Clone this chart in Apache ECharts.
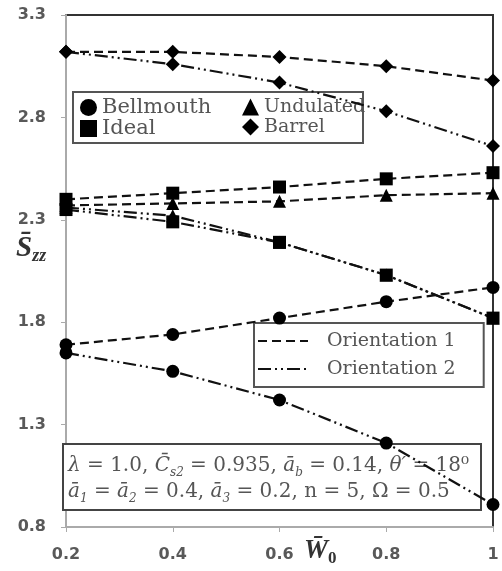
<!DOCTYPE html>
<html>
<head>
<meta charset="utf-8">
<script src="https://cdn.jsdelivr.net/npm/echarts@6/dist/echarts.min.js"></script>
<style>html,body{margin:0;padding:0;background:#fff;}#c{width:502px;height:571px;}</style>
</head>
<body>
<div id="c"></div>
<script>
var xValues = [0.2, 0.4, 0.6, 0.8, 1.0];
var bellmouthO1 = [1.69, 1.74, 1.82, 1.90, 1.97];
var bellmouthO2 = [1.65, 1.56, 1.42, 1.21, 0.91];
var idealO1 = [2.40, 2.43, 2.46, 2.50, 2.53];
var idealO2 = [2.35, 2.29, 2.19, 2.03, 1.82];
var undulatedO1 = [2.37, 2.38, 2.39, 2.42, 2.43];
var undulatedO2 = [2.36, 2.32, 2.19, 2.03, 1.82];
var barrelO1 = [3.12, 3.12, 3.095, 3.05, 2.98];
var barrelO2 = [3.12, 3.06, 2.97, 2.83, 2.66];
var yTicks = { min: 0.8, max: 3.3, step: 0.5 };
var xTicks = { min: 0.2, max: 1.0, step: 0.2 };
var shapeNamesCol1 = ['Bellmouth', 'Ideal'];
var shapeNamesCol2 = ['Undulated', 'Barrel'];
var orientationNames = ['Orientation 1', 'Orientation 2'];

function pairs(vals) { return xValues.map(function (x, i) { return [x, vals[i]]; }); }

var dashO1 = [9, 5];
var dashO2 = [13, 4, 2, 4, 2, 4];
var icons = { Bellmouth: 'circle', Ideal: 'rect', Undulated: 'triangle', Barrel: 'diamond' };

function mk(name, vals, size, dash) {
  return {
    type: 'line', name: name, data: pairs(vals), symbol: icons[name], symbolSize: size,
    itemStyle: { color: '#000' },
    lineStyle: { color: '#111', width: 2.2, type: dash },
    animation: false, z: 3
  };
}

var series = [
  mk('Bellmouth', bellmouthO1, 13, dashO1),
  mk('Bellmouth', bellmouthO2, 13, dashO2),
  mk('Undulated', undulatedO1, 13, dashO1),
  mk('Undulated', undulatedO2, 13, dashO2),
  mk('Ideal', idealO1, 13, dashO1),
  mk('Ideal', idealO2, 13, dashO2),
  mk('Barrel', barrelO1, 14, dashO1),
  mk('Barrel', barrelO2, 14, dashO2),
  { type: 'line', name: orientationNames[0], data: [], symbol: 'none', itemStyle: { color: '#111' }, lineStyle: { color: '#111', width: 2.2, type: dashO1 } },
  { type: 'line', name: orientationNames[1], data: [], symbol: 'none', itemStyle: { color: '#111' }, lineStyle: { color: '#111', width: 2.2, type: dashO2 } }
];

function shapeLegend(names, left, fontSize) {
  return {
    left: left, top: 97, orient: 'vertical', z: 2,
    itemWidth: 17, itemHeight: 17, itemGap: 0, padding: 0,
    textStyle: { fontFamily: 'DejaVu Serif', fontSize: fontSize, color: '#555', lineHeight: 20 },
    data: names.map(function (n) { return { name: n, icon: icons[n] }; }),
    selectedMode: false
  };
}

var chart = echarts.init(document.getElementById('c'), null, { renderer: 'canvas' });
chart.setOption({
  backgroundColor: '#fff',
  animation: false,
  grid: { left: 66, right: 9, top: 15, bottom: 44, show: true, borderColor: '#333', borderWidth: 2 },
  xAxis: {
    type: 'value', min: xTicks.min, max: xTicks.max, interval: xTicks.step,
    axisLine: { lineStyle: { color: '#aaa', width: 2 } },
    axisTick: { show: true, length: 5, lineStyle: { color: '#aaa' } },
    splitLine: { show: false },
    axisLabel: {
      margin: 20, color: '#595959', fontSize: 16, fontWeight: 'bold', fontFamily: 'DejaVu Sans',
      formatter: function (v) { var r = Math.round(v * 10) / 10; return r === 1 ? '1' : r.toFixed(1); }
    }
  },
  yAxis: {
    type: 'value', min: yTicks.min, max: yTicks.max, interval: yTicks.step,
    axisLine: { show: true, lineStyle: { color: '#aaa', width: 2 } },
    axisTick: { show: true, length: 5, lineStyle: { color: '#aaa' } },
    splitLine: { show: false },
    axisLabel: {
      margin: 20, color: '#595959', fontSize: 16, fontWeight: 'bold', fontFamily: 'DejaVu Sans',
      formatter: function (v) { return (Math.round(v * 10) / 10).toFixed(1); }
    }
  },
  legend: [
    shapeLegend(shapeNamesCol1, 80, 21),
    shapeLegend(shapeNamesCol2, 242, 19),
    {
      left: 254, top: 323, orient: 'vertical', z: 2,
      itemWidth: 50, itemHeight: 14, itemGap: 4,
      padding: [6, 28, 6, 3], borderColor: '#555', borderWidth: 2, backgroundColor: '#fff',
      itemStyle: { color: 'rgba(0,0,0,0)', borderWidth: 0 },
      textStyle: { fontFamily: 'DejaVu Serif', fontSize: 19, color: '#555', lineHeight: 24, padding: [0, 0, 0, 14] },
      data: orientationNames,
      selectedMode: false
    }
  ],
  title: {
    left: 63, top: 444, z: 1,
    padding: [9, 12, 5, 5], borderColor: '#444', borderWidth: 2, backgroundColor: '#fff',
    text: '{i|λ} = 1.0, {i|C̄}{sub|s2} = 0.935, {i|ā}{sub|b} = 0.14, {i|θ′} = 18⁰\n{i|ā}{sub|1} = {i|ā}{sub|2} = 0.4, {i|ā}{sub|3} = 0.2, n = 5, Ω = 0.5',
    textStyle: {
      fontFamily: 'DejaVu Serif', fontSize: 20, fontWeight: 'normal', color: '#555', lineHeight: 26,
      rich: {
        i: { fontFamily: 'DejaVu Serif', fontStyle: 'italic', fontSize: 20, color: '#555', lineHeight: 26 },
        sub: { fontFamily: 'DejaVu Serif', fontStyle: 'italic', fontSize: 12, color: '#555', lineHeight: 26, verticalAlign: 'bottom', padding: [10, 0, 0, 0] }
      }
    }
  },
  graphic: [
    {
      type: 'rect', z: 1, shape: { x: 73, y: 92, width: 290, height: 51 },
      style: { fill: '#fff', stroke: '#555', lineWidth: 2 }
    },
    {
      type: 'text', left: 16, top: 234,
      style: {
        text: '{b|S̄}{s|zz}',
        rich: {
          b: { fontFamily: 'Liberation Serif', fontWeight: 'bold', fontStyle: 'italic', fontSize: 29, fill: '#333', lineHeight: 34 },
          s: { fontFamily: 'Liberation Serif', fontWeight: 'bold', fontStyle: 'italic', fontSize: 18, fill: '#333', lineHeight: 34, verticalAlign: 'bottom', padding: [12, 0, 0, 0] }
        }
      }
    },
    {
      type: 'text', left: 304, top: 538,
      style: {
        text: '{b|W̄}{s|0}',
        rich: {
          b: { fontFamily: 'Liberation Serif', fontWeight: 'bold', fontStyle: 'italic', fontSize: 27, fill: '#333', lineHeight: 32 },
          s: { fontFamily: 'Liberation Serif', fontWeight: 'bold', fontSize: 17, fill: '#333', lineHeight: 32, verticalAlign: 'bottom', padding: [12, 0, 0, 0] }
        }
      }
    }
  ],
  series: series
});
</script>
</body>
</html>
